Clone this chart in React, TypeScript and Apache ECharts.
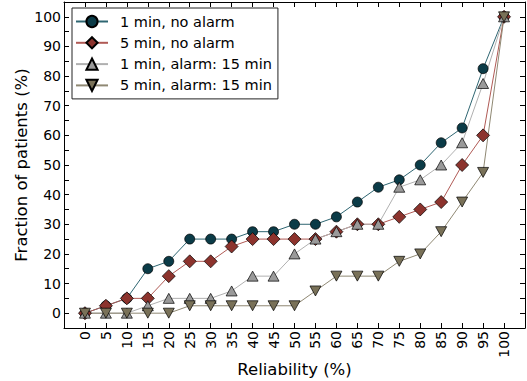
import React, { useEffect, useRef } from "react";
import * as echarts from "echarts";

const reliability = [0, 5, 10, 15, 20, 25, 30, 35, 40, 45, 50, 55, 60, 65, 70, 75, 80, 85, 90, 95, 100];
const oneMinNoAlarm = [0, 2.5, 5, 15, 17.5, 25, 25, 25, 27.5, 27.5, 30, 30, 32.5, 37.5, 42.5, 45, 50, 57.5, 62.5, 82.5, 100];
const fiveMinNoAlarm = [0, 2.5, 5, 5, 12.5, 17.5, 17.5, 22.5, 25, 25, 25, 25, 27.5, 30, 30, 32.5, 35, 37.5, 50, 60, 100];
const oneMinAlarm = [0, 0, 0, 2.5, 5, 5, 5, 7.5, 12.5, 12.5, 20, 25, 27.5, 30, 30, 42.5, 45, 50, 57.5, 77.5, 100];
const fiveMinAlarm = [0, 0, 0, 0, 0, 2.5, 2.5, 2.5, 2.5, 2.5, 2.5, 7.5, 12.5, 12.5, 12.5, 17.5, 20, 27.5, 37.5, 47.5, 100];
const seriesNames = ["1 min, no alarm", "5 min, no alarm", "1 min, alarm: 15 min", "5 min, alarm: 15 min"];

const FONT = "DejaVu Sans";

function pairs(ys: number[]) {
  return reliability.map((x, i) => [x, ys[i]]);
}

export default function App() {
  const ref = useRef<HTMLDivElement>(null);
  useEffect(() => {
    const chart = echarts.init(ref.current!, null, { renderer: "svg" });
    const axisCommon = {
      axisLine: { show: true, onZero: false, lineStyle: { color: "#000", width: 1 } },
      splitLine: { show: false },
    };
    const mk = (
      name: string,
      ys: number[],
      symbol: string,
      size: any,
      fill: string,
      line: string,
      rotate = 0
    ) => ({
      type: "line",
      name,
      data: pairs(ys),
      symbol,
      symbolSize: size,
      symbolRotate: rotate,
      showAllSymbol: true,
      xAxisIndex: 0,
      yAxisIndex: 0,
      lineStyle: { color: line, width: 1 },
      itemStyle: { color: fill, borderColor: "#000", borderWidth: 0.7 },
      emphasis: { disabled: true },
    });
    chart.setOption({
      animation: false,
      textStyle: { fontFamily: FONT },
      grid: { left: 64, right: 2, top: 2, bottom: 53, containLabel: false, outerBoundsMode: "none" },
      legend: {
        orient: "vertical",
        left: 72,
        top: 8,
        padding: [6, 6, 6, 3],
        itemWidth: 32,
        itemHeight: 14,
        itemGap: 6.3,
        backgroundColor: "#fff",
        borderColor: "#222",
        borderWidth: 1,
        borderRadius: 0,
        formatter: (n: string) => "{g|}{t|" + n + "}",
        textStyle: {
          fontFamily: FONT,
          fontSize: 14.5,
          color: "#000",
          rich: {
            g: { width: 7 },
            t: { fontFamily: FONT, fontSize: 14.5, color: "#000", lineHeight: 15 },
          },
        },
        data: seriesNames,
      },
      xAxis: [
        {
          ...axisCommon,
          type: "value",
          min: -5,
          max: 105,
          interval: 5,
          position: "bottom",
          axisTick: { show: true, inside: true, length: 5, lineStyle: { color: "#000" } },
          axisLabel: {
            rotate: 90,
            margin: 3,
            fontSize: 14,
            color: "#000",
            fontFamily: FONT,
            showMinLabel: false,
            showMaxLabel: false,
            formatter: (v: number) => (v < 0 || v > 100 ? "" : String(v)),
          },
          name: "Reliability (%)",
          nameLocation: "middle",
          nameGap: 33,
          nameMoveOverlap: false,
          nameTextStyle: { fontSize: 16.5, color: "#000", fontFamily: FONT },
        },
        {
          ...axisCommon,
          type: "value",
          min: -5,
          max: 105,
          interval: 5,
          position: "top",
          axisTick: { show: true, inside: true, length: 5, lineStyle: { color: "#000" } },
          axisLabel: { show: false },
        },
      ],
      yAxis: [
        {
          ...axisCommon,
          type: "value",
          min: -5,
          max: 105,
          interval: 5,
          position: "left",
          axisTick: { show: true, inside: true, length: 5, interval: 1, lineStyle: { color: "#000" } },
          axisLabel: {
            margin: 3,
            fontSize: 14,
            color: "#000",
            fontFamily: FONT,
            formatter: (v: number) => (v < 0 || v > 100 || v % 10 !== 0 ? "" : String(v)),
          },
          name: "Fraction of patients (%)",
          nameLocation: "middle",
          nameGap: 34,
          nameMoveOverlap: false,
          nameTextStyle: { fontSize: 16.5, color: "#000", fontFamily: FONT },
        },
        {
          ...axisCommon,
          type: "value",
          min: -5,
          max: 105,
          interval: 5,
          position: "right",
          axisTick: { show: true, inside: true, length: 5, interval: 1, lineStyle: { color: "#000" } },
          axisLabel: { show: false },
        },
      ],
      series: [
        mk(seriesNames[0], oneMinNoAlarm, "circle", 10, "#0b3b47", "#2f6672"),
        mk(seriesNames[1], fiveMinNoAlarm, "diamond", [13, 13], "#8c332d", "#b05a55"),
        mk(seriesNames[2], oneMinAlarm, "triangle", [11, 10], "#9a9a9a", "#b0b0b0"),
        mk(seriesNames[3], fiveMinAlarm, "triangle", [11, 10], "#797158", "#8f8873", 180),
      ],
    });
    return () => chart.dispose();
  }, []);
  return (
    <div
      ref={ref}
      style={{ position: "absolute", left: 0, top: 0, width: 527, height: 381, background: "#fff" }}
    />
  );
}
